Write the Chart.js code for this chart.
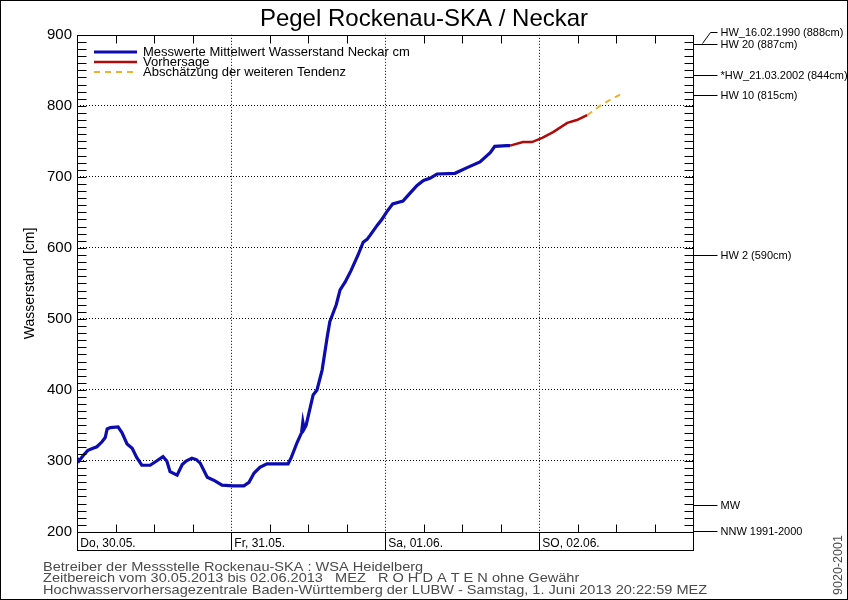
<!DOCTYPE html>
<html>
<head>
<meta charset="utf-8">
<script src="https://cdn.jsdelivr.net/npm/chart.js@4.4.0/dist/chart.umd.min.js"></script>
<style>
  html, body { margin: 0; padding: 0; background: #fff; }
  #wrap { width: 848px; height: 600px; }
</style>
</head>
<body>
<div id="wrap"><canvas id="pegel" width="848" height="600"></canvas></div>
<script>
// Stunden ab Do 30.05. 00:00, Wasserstand in cm
const messHours = [0, 0.3, 1, 1.7, 2.5, 3.1, 3.9, 4.4, 4.7, 5.2, 6.4, 7, 7.8, 8.6, 9.3, 10.1, 11.4, 12.4, 13.4, 14,
  14.5, 15.6, 16.4, 17, 17.9, 18.6, 19.2, 20.3, 21.5, 22.6, 24.3, 26, 26.8, 27.6, 28.5, 29.6, 32.9, 33.4, 34.3, 35,
  35.2, 35.4, 35.7, 36.8, 37.4, 38.2, 39, 39.4, 40.4, 41, 41.8, 42.7, 43.8, 44.6, 45.2, 45.7, 46.8, 47.5, 48.3, 49.2,
  50.8, 51.8, 53, 54, 55, 56.1, 58.9, 60.8, 62.8, 64.4, 65.1, 67, 67.5];
const messValues = [304, 300, 308, 315, 318, 320, 327, 333, 345, 347, 348, 340, 324, 318, 305, 294, 294, 300, 306, 300,
  285, 280, 295, 300, 304, 302, 297, 277, 272, 266, 265, 265, 270, 283, 291, 296, 296, 305, 326, 340,
  355, 345, 350, 393, 400, 428, 475, 496, 520, 541, 552, 568, 590, 608, 612, 618, 632, 640, 651, 662,
  666, 676, 688, 695, 698, 704, 705, 713, 721, 734, 743, 744, 744];
const vorhHours = [67.5, 69.5, 70.9, 72.5, 74.2, 76.4, 77.9, 79.5];
const vorhValues = [744, 749, 749, 755, 763, 776, 780, 787];
const trendHours = [79.5, 80, 81.5, 83.4, 85.1];
const trendValues = [787, 790, 800, 810, 818];

const dayLabels = ["Do, 30.05.", "Fr, 31.05.", "Sa, 01.06.", "SO, 02.06."];
const refLabels = ["HW 20 (887cm)", "*HW_21.03.2002 (844cm)", "HW 10 (815cm)", "HW 2 (590cm)", "MW", "NNW 1991-2000"];
const refValues = [887, 844, 815, 590, 238, 201];
const hw1990Label = "HW_16.02.1990 (888cm)";
const hw1990Value = 888;
const footerLines = [
  "Betreiber der Messstelle Rockenau-SKA : WSA Heidelberg",
  "Zeitbereich vom 30.05.2013 bis 02.06.2013   MEZ   R O H D A T E N ohne Gewähr",
  "Hochwasservorhersagezentrale Baden-Württemberg der LUBW - Samstag, 1. Juni 2013 20:22:59 MEZ"
];

const FONT = "'Liberation Sans', Arial, sans-serif";
const pts = (xs, ys) => xs.map((h, i) => ({ x: h, y: ys[i] }));

const pegelFrame = {
  id: "pegelFrame",
  afterDraw(chart) {
    const { ctx, chartArea: a, scales: { x, y } } = chart;
    const L = Math.round(a.left) + 0.5, R = Math.round(a.right) + 0.5;
    const T = Math.round(a.top) + 0.5, B = Math.round(a.bottom) + 0.5;
    ctx.save();
    ctx.setLineDash([]);
    ctx.strokeStyle = "#000";
    ctx.lineWidth = 1;

    // kleine Striche innen
    ctx.beginPath();
    for (let v = 210; v < 900; v += 10) {
      const py = Math.round(y.getPixelForValue(v)) + 0.5;
      ctx.moveTo(L, py); ctx.lineTo(L + 9, py);
      ctx.moveTo(R, py); ctx.lineTo(R - 9, py);
    }
    for (let h = 6; h < 96; h += 6) {
      if (h % 24 === 0) continue;
      const px = Math.round(x.getPixelForValue(h)) + 0.5;
      ctx.moveTo(px, T); ctx.lineTo(px, T + 8);
      ctx.moveTo(px, B); ctx.lineTo(px, B - 8);
    }
    ctx.stroke();

    // Rahmen + Datumszeile
    ctx.strokeRect(L, T, R - L, B - T);
    ctx.strokeRect(L, B, R - L, 18);
    ctx.beginPath();
    for (let d = 1; d < dayLabels.length; d++) {
      const px = Math.round(x.getPixelForValue(d * 24)) + 0.5;
      ctx.moveTo(px, B); ctx.lineTo(px, B + 18);
    }
    ctx.stroke();

    // Legende
    ctx.font = "13px " + FONT;
    ctx.textBaseline = "middle";
    ctx.fillStyle = "#000";
    chart.data.datasets.forEach((ds, i) => {
      const ly = 52 + i * 10;
      ctx.save();
      ctx.strokeStyle = ds.borderColor;
      ctx.lineWidth = ds.borderWidth;
      ctx.setLineDash(ds.borderDash || []);
      ctx.beginPath(); ctx.moveTo(94, ly); ctx.lineTo(137, ly); ctx.stroke();
      ctx.restore();
      ctx.fillText(ds.label, 143, ly);
    });

    // Hochwassermarken rechts
    ctx.font = "11px " + FONT;
    ctx.beginPath();
    refValues.forEach((v, i) => {
      const py = Math.round(y.getPixelForValue(v)) + 0.5;
      ctx.moveTo(R, py); ctx.lineTo(R + 24, py);
      ctx.fillText(refLabels[i], R + 27, py);
    });
    const p88 = Math.round(y.getPixelForValue(hw1990Value)) + 0.5;
    ctx.moveTo(R + 9, p88); ctx.lineTo(R + 17, p88 - 11); ctx.lineTo(R + 24, p88 - 11);
    ctx.stroke();
    ctx.fillText(hw1990Label, R + 27, p88 - 11);

    // Fusszeilen
    ctx.fillStyle = "#4a4a4a";
    ctx.font = "13.5px " + FONT;
    footerLines.forEach((t, i) => {
      ctx.save();
      ctx.translate(43, 567 + i * 11.7);
      ctx.scale(1.078, 1);
      ctx.fillText(t, 0, 0);
      ctx.restore();
    });

    ctx.save();
    ctx.translate(839, 565);
    ctx.rotate(-Math.PI / 2);
    ctx.textAlign = "center";
    ctx.font = "12.5px " + FONT;
    ctx.fillText("9020-2001", 0, 0);
    ctx.restore();

    ctx.strokeStyle = "#000";
    ctx.strokeRect(0.5, 0.5, chart.width - 1, chart.height - 1);
    ctx.restore();
  }
};

new Chart(document.getElementById("pegel"), {
  type: "line",
  data: {
    datasets: [
      { label: "Messwerte Mittelwert Wasserstand Neckar cm", data: pts(messHours, messValues),
        borderColor: "#0c0cb0", borderWidth: 3.2 },
      { label: "Vorhersage", data: pts(vorhHours, vorhValues),
        borderColor: "#b00a0a", borderWidth: 2.5 },
      { label: "Abschätzung der weiteren Tendenz", data: pts(trendHours, trendValues),
        borderColor: "#f2b12a", borderWidth: 2, borderDash: [6, 5] }
    ]
  },
  options: {
    responsive: false,
    animation: false,
    layout: { padding: 0 },
    elements: { point: { radius: 0 }, line: { tension: 0 } },
    plugins: {
      legend: { display: false },
      tooltip: { enabled: false },
      title: {
        display: true,
        text: "Pegel Rockenau-SKA / Neckar",
        color: "#000",
        font: { family: FONT, size: 24, weight: "normal" },
        padding: { top: 5, bottom: 1 }
      }
    },
    scales: {
      x: {
        type: "linear", min: 0, max: 96,
        afterFit: s => { s.height = 68; },
        ticks: {
          stepSize: 24, align: "start", maxRotation: 0, autoSkip: false, padding: 4,
          color: "#000", font: { family: FONT, size: 12 },
          callback: v => dayLabels[v / 24] ? " " + dayLabels[v / 24] : ""
        },
        grid: { drawTicks: false, color: c => (c.tick.value > 0 && c.tick.value < 96) ? "#000" : "rgba(0,0,0,0)" },
        border: { display: false, dash: [1, 2] }
      },
      y: {
        min: 200, max: 900,
        afterFit: s => { s.width = 77; },
        ticks: { stepSize: 100, padding: 5, color: "#000", font: { family: FONT, size: 15 } },
        grid: { drawTicks: false, color: c => (c.tick.value > 200 && c.tick.value < 900) ? "#000" : "rgba(0,0,0,0)" },
        border: { display: false, dash: [1, 2] },
        title: { display: true, text: "Wasserstand [cm]", color: "#000",
          font: { family: FONT, size: 14 }, padding: { top: 22 } }
      },
      yMarken: {
        position: "right", min: 200, max: 900,
        afterFit: s => { s.width = 155; },
        ticks: { display: false },
        grid: { display: false },
        border: { display: false }
      }
    }
  },
  plugins: [pegelFrame]
});
</script>
</body>
</html>
